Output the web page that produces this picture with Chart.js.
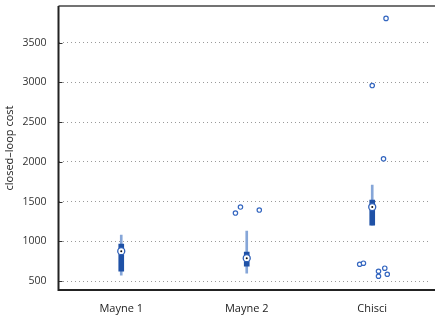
<!DOCTYPE html>
<html>
<head>
<meta charset="utf-8">
<script src="https://cdn.jsdelivr.net/npm/chart.js@4/dist/chart.umd.min.js"></script>
<style>
  html, body { margin: 0; padding: 0; background: #fff; }
  #wrap { width: 435px; height: 320px; }
</style>
</head>
<body>
<div id="wrap"><canvas id="boxChart"></canvas></div>
<script>
// data
const categories = ['Mayne 1', 'Mayne 2', 'Chisci'];
const whiskerLow = [576, 600, 1206];
const boxLow = [626, 689, 1206];
const medians = [878, 790, 1433];
const boxHigh = [967, 866, 1521];
const whiskerHigh = [1080, 1130, 1710];
// outliers (x jittered around the category position)
const outlierX = [1.95, 1.91, 2.1, 3.11, 3.0, 3.09, 2.9, 2.93, 3.05, 3.05, 3.1, 3.12];
const outlierY = [1433, 1357, 1395, 3804, 2960, 2039, 714, 727, 626, 563, 664, 588];
const yTicks = [500, 1000, 1500, 2000, 2500, 3000, 3500];

const pos = categories.map((c, i) => i + 1);

// matlab-like frame: thick left/bottom, thin top, inward ticks
const frame = {
    id: 'frame',
    afterDraw(chart) {
        const { ctx, chartArea: a } = chart;
        const y = chart.scales.y;
        ctx.save();
        ctx.strokeStyle = '#333';
        ctx.lineWidth = 1;
        yTicks.forEach(v => {
            const py = Math.round(y.getPixelForValue(v)) + 0.5;
            ctx.beginPath();
            ctx.moveTo(a.left, py); ctx.lineTo(a.left + 4, py);
            ctx.stroke();
        });
        ctx.strokeStyle = '#444';
        ctx.lineWidth = 1.5;
        ctx.beginPath();
        ctx.moveTo(a.left, a.top); ctx.lineTo(chart.width, a.top);
        ctx.stroke();
        ctx.strokeStyle = '#222';
        ctx.lineWidth = 2;
        ctx.beginPath();
        ctx.moveTo(a.left, a.top); ctx.lineTo(a.left, a.bottom); ctx.lineTo(chart.width, a.bottom);
        ctx.stroke();
        ctx.restore();
    }
};

new Chart(document.getElementById('boxChart'), {
    data: {
        datasets: [
            {
                type: 'bar',
                data: pos.map((x, i) => ({ x: x, y: [whiskerLow[i], whiskerHigh[i]] })),
                backgroundColor: '#86a6d8',
                barThickness: 2,
                grouped: false,
                order: 3
            },
            {
                type: 'bar',
                data: pos.map((x, i) => ({ x: x, y: [boxLow[i], boxHigh[i]] })),
                backgroundColor: '#1f51a6',
                barThickness: 5,
                grouped: false,
                order: 2
            },
            {
                type: 'scatter',
                data: pos.map((x, i) => ({ x: x, y: medians[i] })),
                pointRadius: 3.5,
                pointBorderWidth: 1.3,
                pointBorderColor: '#2f60b8',
                pointBackgroundColor: '#fff',
                order: 1
            },
            {
                type: 'scatter',
                data: pos.map((x, i) => ({ x: x, y: medians[i] })),
                pointRadius: 1,
                pointBorderWidth: 0,
                pointBackgroundColor: '#111',
                order: 0
            },
            {
                type: 'scatter',
                data: outlierX.map((x, i) => ({ x: x, y: outlierY[i] })),
                pointRadius: 2.2,
                pointBorderWidth: 1.2,
                pointBorderColor: '#3567c0',
                pointBackgroundColor: '#fff',
                order: 0
            }
        ]
    },
    options: {
        responsive: true,
        maintainAspectRatio: false,
        animation: false,
        layout: { padding: 0 },
        plugins: { legend: { display: false }, tooltip: { enabled: false } },
        scales: {
            x: {
                type: 'linear',
                offset: false,
                min: 0.5,
                max: 3.458,
                afterBuildTicks(scale) { scale.ticks = pos.map(v => ({ value: v })); },
                afterFit(scale) { scale.height = 30; scale.paddingLeft = 0; scale.paddingRight = 0; },
                ticks: {
                    callback: v => categories[v - 1],
                    color: '#222',
                    padding: 4,
                    font: { family: 'Open Sans', size: 11 }
                },
                grid: { display: false },
                border: { display: false }
            },
            y: {
                min: 390,
                max: 3960,
                afterBuildTicks(scale) { scale.ticks = yTicks.map(v => ({ value: v })); },
                afterFit(scale) { scale.width = 58.5; scale.paddingTop = 6; scale.paddingBottom = 0; },
                ticks: {
                    callback: v => String(v),
                    color: '#333',
                    padding: 12,
                    font: { family: 'Open Sans', size: 10.5 }
                },
                grid: { color: '#9a9a9a', lineWidth: 1, drawTicks: false },
                border: { display: false, dash: [1, 3] },
                title: {
                    display: true,
                    text: 'closed–loop cost',
                    color: '#222',
                    padding: { top: 3, bottom: 0 },
                    font: { family: 'Open Sans', size: 11 }
                }
            }
        }
    },
    plugins: [frame]
});
</script>
</body>
</html>
